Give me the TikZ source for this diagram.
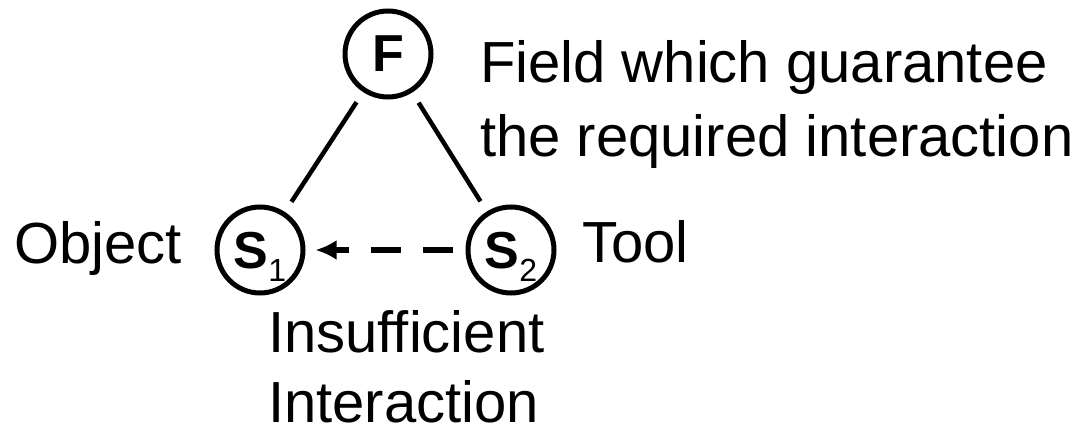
\documentclass[tikz,border=0pt]{standalone}
\usepackage{fontspec}
\setmainfont{Liberation Sans}
\usetikzlibrary{arrows.meta,positioning}

\newcommand{\subidx}[1]{\raisebox{-13pt}{\fontsize{32}{32}\selectfont\mdseries #1}}

\begin{document}
\begin{tikzpicture}[>=Latex, x=1pt, y=-1pt]
\tikzstyle{sfield}=[draw, line width=5pt, circle, minimum size=86pt, inner sep=0pt, text depth=0pt, font=\fontsize{52}{52}\selectfont\bfseries]
\tikzstyle{note}=[anchor=base west, inner sep=0pt, align=left, font=\fontsize{58}{74}\selectfont]
\tikzstyle{link}=[line width=4.5pt, shorten >=12pt, shorten <=12pt]

\useasboundingbox (0,0) rectangle (1087,425);

% field and substances
\node[sfield] (f) at (388,54) {F};
\node[sfield] (s1) at (260,250) {S\subidx{1}};
\node[sfield] (s2) at (511,250) {S\subidx{2}};

% triangle sides
\draw[link] (f) -- (s1);
\draw[link] (f) -- (s2);

% insufficient action of the tool
\draw[line width=6pt, dash pattern=on 30pt off 22pt, shorten >=10pt, shorten <=13pt,
  arrows={-Latex[length=21pt, width=20pt]}] (s2) -- (s1);

% texts (base anchor sits on the last line)
\node[note] (field) at (480,157) {Field which guarantee\\the required interaction};
\node[note] (obj) at (14,263) {Object};
\node[note] (tool) at (582,262) {Tool};
\node[note, font=\fontsize{58}{70}\selectfont] (insuf) at (268,422) {Insufficient\\Interaction};

\end{tikzpicture}
\end{document}
